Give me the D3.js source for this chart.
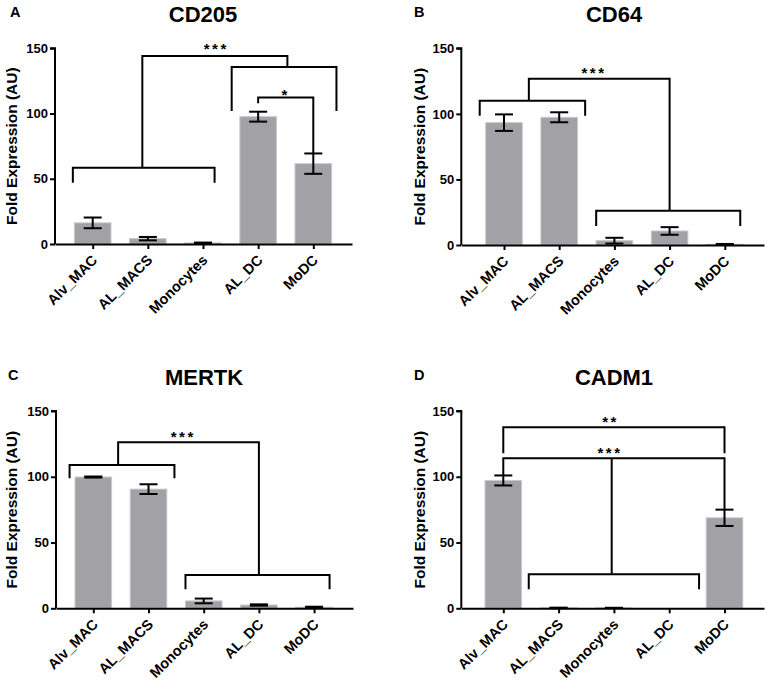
<!DOCTYPE html>
<html>
<head>
<meta charset="utf-8">
<script src="https://cdn.jsdelivr.net/npm/d3@7"></script>
<style>
  body { margin: 0; background: #fff; }
  svg { display: block; font-family: Arial, "Liberation Sans", sans-serif; }
</style>
</head>
<body>
<svg id="chart" width="767" height="685"></svg>
<script>
// ---------- data ----------
const categories = ["Alv_MAC", "AL_MACS", "Monocytes", "AL_DC", "MoDC"];
const yTicks = [0, 50, 100, 150];
const yLabel = "Fold Expression (AU)";

const panelLetters = ["A", "B", "C", "D"];
const panelTitles = ["CD205", "CD64", "MERTK", "CADM1"];

const cd205Values = [16.2, 4.1, 0.8, 97.6, 61.6];
const cd205Errors = [4.1, 1.3, 0.3, 3.8, 7.8];
const cd64Values  = [93.3, 97.4, 3.3, 10.7, 0.5];
const cd64Errors  = [6.3, 3.8, 2.2, 2.9, 0.3];
const mertkValues = [99.8, 90.6, 5.6, 2.5, 0.8];
const mertkErrors = [0.4, 3.7, 1.8, 0.5, 0.4];
const cadm1Values = [97.2, 0.3, 0.3, 0.0, 68.8];
const cadm1Errors = [3.8, 0.2, 0.1, 0.0, 6.2];

// significance brackets: polylines in (category index, value) units
const cd205Brackets = [
  [[-0.36, 47], [-0.36, 58.5], [2.21, 58.5], [2.21, 47]],
  [[0.9, 58.5], [0.9, 144.1], [3.53, 144.1], [3.53, 135.7]],
  [[2.52, 102], [2.52, 135.7], [4.42, 135.7], [4.42, 102]],
  [[3, 107.8], [3, 112.2], [4, 112.2], [4, 69.5]]
];
const cd205Stars = [["***", 2.24, 145.5], ["*", 3.5, 110.5]];

const cd64Brackets = [
  [[-0.44, 98.6], [-0.44, 110], [1.47, 110], [1.47, 98.6]],
  [[0.45, 110], [0.45, 126.8], [3.0, 126.8], [3.0, 26.2]],
  [[1.67, 14.5], [1.67, 26.2], [4.28, 26.2], [4.28, 14.5]]
];
const cd64Stars = [["***", 1.63, 127.5]];

const mertkBrackets = [
  [[-0.43, 98.8], [-0.43, 108.9], [1.47, 108.9], [1.47, 98.8]],
  [[0.45, 108.9], [0.45, 126.2], [3.0, 126.2], [3.0, 25.3]],
  [[1.67, 14.4], [1.67, 25.3], [4.28, 25.3], [4.28, 14.4]]
];
const mertkStars = [["***", 1.63, 126.5]];

const cadm1Brackets = [
  [[0, 117.8], [0, 137.6], [4, 137.6], [4, 117.8]],
  [[0, 100.8], [0, 114], [4, 114], [4, 75]],
  [[1.96, 114], [1.96, 25.8]],
  [[0.46, 14.4], [0.46, 25.8], [3.54, 25.8], [3.54, 14.4]]
];
const cadm1Stars = [["**", 1.94, 137.5], ["***", 1.93, 114.5]];

const panelValues = [cd205Values, cd64Values, mertkValues, cadm1Values];
const panelErrors = [cd205Errors, cd64Errors, mertkErrors, cadm1Errors];
const panelBrackets = [cd205Brackets, cd64Brackets, mertkBrackets, cadm1Brackets];
const panelStars = [cd205Stars, cd64Stars, mertkStars, cadm1Stars];

// ---------- layout ----------
const layouts = [
  { axisX: 55,    c0: 92.7,  step: 55.15, end: 352, top: 48.3, bottom: 244,   letterX: 10,  titleX: 203, titleY: 22,  ylabX: 12 },
  { axisX: 461.3, c0: 504,   step: 55.2,  end: 764, top: 48.3, bottom: 245,   letterX: 414, titleX: 614, titleY: 22,  ylabX: 420 },
  { axisX: 56,    c0: 93.3,  step: 55.2,  end: 353, top: 411,  bottom: 608.3, letterX: 8,   titleX: 204, titleY: 385, ylabX: 12 },
  { axisX: 461.3, c0: 503.3, step: 55.3,  end: 764, top: 411,  bottom: 608.3, letterX: 414, titleX: 614, titleY: 385, ylabX: 420 }
];

const svg = d3.select("#chart");
const barFill = "#a2a1a6";
const barEdge = "#c9c8cc";
const barHalf = 18.3;
const FONT = "Arial, 'Liberation Sans', sans-serif";

layouts.forEach((L, p) => {
  const g = svg.append("g");
  const x = d3.scaleLinear()
    .domain([-(L.c0 - L.axisX) / L.step, (L.end - L.c0) / L.step])
    .range([L.axisX, L.end]);
  const y = d3.scaleLinear().domain([0, 150]).range([L.bottom, L.top]);

  // panel letter and title
  g.append("text").attr("x", L.letterX).attr("y", L.titleY - 5)
    .attr("font-size", 14.5).attr("font-weight", "bold").text(panelLetters[p]);
  g.append("text").attr("x", L.titleX).attr("y", L.titleY)
    .attr("text-anchor", "middle").attr("font-size", 22).attr("font-weight", "bold")
    .text(panelTitles[p]);

  // bars
  const vals = panelValues[p], errs = panelErrors[p];
  g.selectAll("rect.bar").data(vals).join("rect")
    .attr("class", "bar")
    .attr("x", (d, i) => x(i) - barHalf)
    .attr("width", barHalf * 2)
    .attr("y", d => y(d))
    .attr("height", d => y(0) - y(d))
    .attr("fill", barFill)
    .attr("stroke", barEdge)
    .attr("stroke-width", 1);

  // error bars
  const eg = g.append("g").attr("stroke", "#000").attr("stroke-width", 2).attr("fill", "none");
  vals.forEach((v, i) => {
    const e = errs[i];
    if (v <= 0 && e <= 0) return;
    const cx = x(i);
    const yHi = y(v + e), yLo = y(Math.max(0, v - e));
    eg.append("line").attr("x1", cx).attr("x2", cx).attr("y1", yHi).attr("y2", yLo);
    eg.append("line").attr("x1", cx - 9).attr("x2", cx + 9).attr("y1", yHi).attr("y2", yHi);
    eg.append("line").attr("x1", cx - 9).attr("x2", cx + 9).attr("y1", yLo).attr("y2", yLo);
  });

  // axes
  const yAxis = d3.axisLeft(y).tickValues(yTicks).tickSize(5).tickPadding(2);
  const ya = g.append("g").attr("transform", `translate(${L.axisX},0)`).call(yAxis);
  ya.select(".domain").attr("stroke-width", 2).attr("d", `M-5,${y(150)}H0V${y(0)}`);
  ya.selectAll(".tick line").attr("stroke-width", 2);
  ya.selectAll(".tick text").attr("font-size", 13).attr("font-weight", "bold")
    .attr("fill", "#000").attr("font-family", FONT);

  const xAxis = d3.axisBottom(x).tickValues(d3.range(categories.length))
    .tickFormat(i => categories[i]).tickSize(5).tickSizeOuter(0);
  const xa = g.append("g").attr("transform", `translate(0,${L.bottom})`).call(xAxis);
  xa.select(".domain").attr("stroke-width", 2);
  xa.selectAll(".tick line").attr("stroke-width", 2);
  xa.selectAll(".tick text")
    .attr("font-size", 14.5).attr("font-weight", "bold").attr("fill", "#000")
    .attr("font-family", FONT)
    .attr("text-anchor", "end")
    .attr("dy", null).attr("y", null)
    .attr("transform", "translate(5,17) rotate(-45)");

  // y label
  g.append("text")
    .attr("transform", `translate(${L.ylabX + 5},${(L.top + L.bottom) / 2}) rotate(-90)`)
    .attr("text-anchor", "middle").attr("font-size", 15.5).attr("font-weight", "bold")
    .text(yLabel);

  // brackets
  const line = d3.line().x(d => x(d[0])).y(d => y(d[1]));
  g.selectAll("path.br").data(panelBrackets[p]).join("path")
    .attr("class", "br").attr("d", line)
    .attr("fill", "none").attr("stroke", "#000").attr("stroke-width", 2);

  // stars
  g.selectAll("text.star").data(panelStars[p]).join("text")
    .attr("class", "star")
    .attr("x", d => x(d[1])).attr("y", d => y(d[2]))
    .attr("text-anchor", "middle").attr("font-size", 15).attr("font-weight", "bold")
    .attr("letter-spacing", 2.5)
    .text(d => d[0]);
});
</script>
</body>
</html>
